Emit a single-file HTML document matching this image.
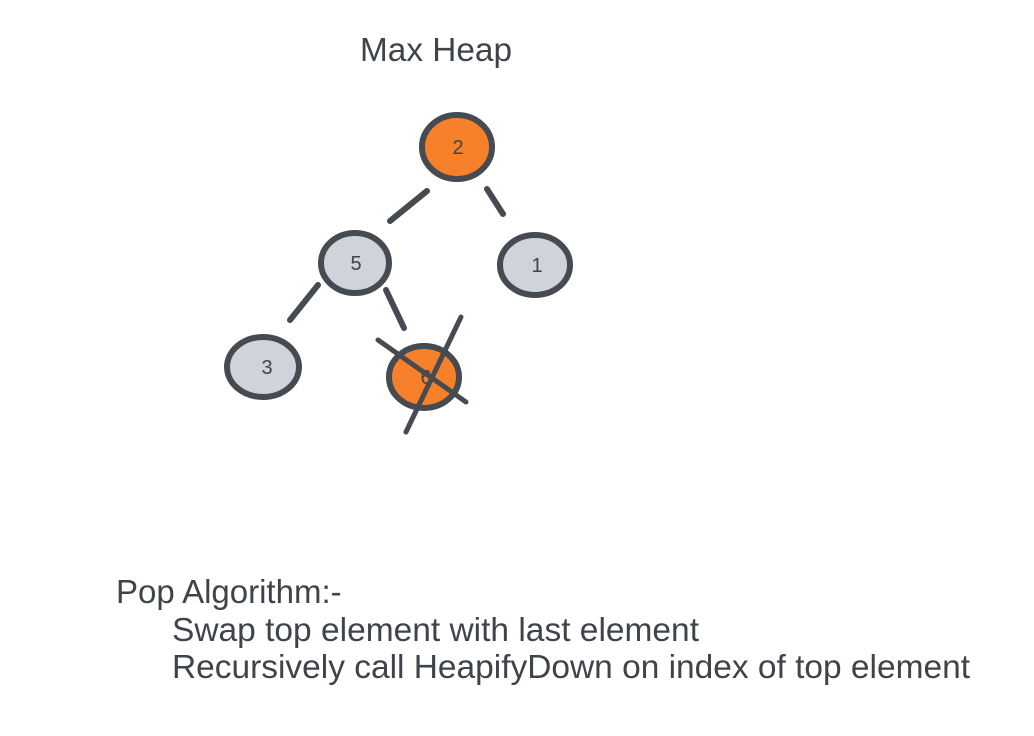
<!DOCTYPE html>
<html><head><meta charset="utf-8"><style>
html,body{margin:0;padding:0;background:#fff;}
svg{display:block;}
text{font-family:"Liberation Sans",sans-serif;fill:#3f444b;}
</style></head><body>
<svg width="1034" height="736" viewBox="0 0 1034 736">
<text x="360" y="61" font-size="33" textLength="152" lengthAdjust="spacingAndGlyphs">Max Heap</text>
<g stroke="#464a51" stroke-width="6" stroke-linecap="round" fill="none">
<line x1="427" y1="191" x2="390" y2="221"/>
<line x1="487" y1="189" x2="503" y2="214"/>
<line x1="318" y1="285" x2="290" y2="320"/>
<line x1="386" y1="290" x2="404" y2="328"/>
</g>
<g stroke="#464a51" stroke-width="6">
<ellipse cx="457" cy="147" rx="35" ry="32" fill="#f7802a"/>
<ellipse cx="355" cy="263" rx="34" ry="30" fill="#d0d3da"/>
<ellipse cx="535" cy="265" rx="35" ry="30" fill="#d0d3da"/>
<ellipse cx="263" cy="367" rx="36" ry="30" fill="#d0d3da"/>
<ellipse cx="424" cy="377" rx="35" ry="31" fill="#f7802a"/>
</g>
<g font-size="20" text-anchor="middle">
<text x="458" y="154">2</text>
<text x="356" y="270">5</text>
<text x="537" y="272">1</text>
<text x="267" y="374">3</text>
<text x="426" y="384">6</text>
</g>
<g stroke="#464a51" stroke-width="5" stroke-linecap="round">
<line x1="461" y1="317" x2="406" y2="432"/>
<line x1="378" y1="340" x2="466" y2="402"/>
</g>
<text x="116" y="603" font-size="33">Pop Algorithm:-</text>
<text x="172" y="641" font-size="33" textLength="527" lengthAdjust="spacingAndGlyphs">Swap top element with last element</text>
<text x="172" y="678" font-size="33" textLength="798" lengthAdjust="spacingAndGlyphs">Recursively call HeapifyDown on index of top element</text>
</svg>
</body></html>
